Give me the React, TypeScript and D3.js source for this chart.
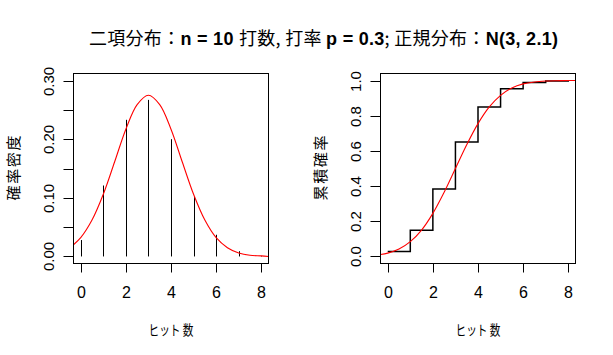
import * as d3 from 'd3';

// binomial n = 10, p = 0.3
const hits = [0, 1, 2, 3, 4, 5, 6, 7, 8];
const pmf = [0.028, 0.121, 0.233, 0.267, 0.2, 0.103, 0.037, 0.009, 0.001];
const cdf = [0.028, 0.149, 0.383, 0.65, 0.85, 0.953, 0.989, 0.998, 1.0];

// normal N(3, 2.1) curve
const normX = [-0.32, 0, 0.5, 1, 1.5, 2, 2.5, 3, 3.5, 4, 4.5, 5, 5.5, 6, 6.5, 7, 7.5, 8, 8.32];
const normPdf = [0.02, 0.032, 0.062, 0.106, 0.161, 0.217, 0.259, 0.275, 0.259, 0.217, 0.161, 0.106, 0.062, 0.032, 0.015, 0.006, 0.002, 0.001, 0.0];
const normCdf = [0.011, 0.019, 0.042, 0.084, 0.15, 0.245, 0.365, 0.5, 0.635, 0.755, 0.85, 0.916, 0.958, 0.981, 0.992, 0.997, 0.999, 1.0, 1.0];

const xTicks = [0, 2, 4, 6, 8];
const pdfTicks = [0, 0.05, 0.1, 0.15, 0.2, 0.25, 0.3];
const pdfLabels = ['0.00', '', '0.10', '', '0.20', '', '0.30'];
const cdfTicks = [0, 0.2, 0.4, 0.6, 0.8, 1.0];

const LATIN = '"Liberation Sans", Arial, sans-serif';
const CJK = '"Noto Sans CJK JP", sans-serif';

interface PanelProps {
    left: number;
    yDomain: [number, number];
    yTicks: number[];
    yLabels: string[];
    yTitle: string;
    titleX: number;
    kind: 'pdf' | 'cdf';
}

const TOP = 73.5;
const BOTTOM = 263.5;
const W = 195;

function Panel(props: PanelProps) {
    const { left, yDomain, yTicks, yLabels, yTitle, titleX, kind } = props;
    const x = d3.scaleLinear().domain([-0.32, 8.32]).range([left, left + W]);
    const y = d3.scaleLinear().domain(yDomain).range([BOTTOM, TOP]);
    const clipId = `clip-${kind}`;

    const curve = d3
        .line<number>()
        .x((d) => x(d))
        .y((_d, i) => y(kind === 'pdf' ? normPdf[i] : normCdf[i]))
        .curve(d3.curveCatmullRom)(normX);

    const steps = d3
        .line<number>()
        .x((d) => x(d))
        .y((_d, i) => y(cdf[i]))
        .curve(d3.curveStepAfter)(hits);

    const midX = left + W / 2;

    return (
        <g>
            <defs>
                <clipPath id={clipId}>
                    <rect x={left} y={TOP} width={W} height={BOTTOM - TOP} />
                </clipPath>
            </defs>
            <g clipPath={`url(#${clipId})`}>
                {kind === 'pdf' &&
                    hits.map((h, i) => (
                        <line key={h} x1={Math.round(x(h)) + 0.5} x2={Math.round(x(h)) + 0.5} y1={y(0)} y2={y(pmf[i])} stroke="#000" />
                    ))}
                {kind === 'cdf' && <path d={steps ?? ''} fill="none" stroke="#000" strokeWidth={1.5} />}
                <path d={curve ?? ''} fill="none" stroke="red" strokeWidth={1.1} />
            </g>
            <rect x={left} y={TOP} width={W} height={BOTTOM - TOP} fill="none" stroke="#000" />
            {xTicks.map((t) => {
                const px = Math.round(x(t)) + 0.5;
                return (
                    <g key={t}>
                        <line x1={px} x2={px} y1={BOTTOM} y2={BOTTOM + 9} stroke="#000" />
                        <text x={px} y={298} textAnchor="middle" fontFamily={LATIN} fontSize={16}>
                            {t}
                        </text>
                    </g>
                );
            })}
            {yTicks.map((t, i) => {
                const py = Math.round(y(t)) + 0.5;
                return (
                    <g key={t}>
                        <line x1={left - 10} x2={left} y1={py} y2={py} stroke="#000" />
                        {yLabels[i] && (
                            <text
                                x={left - 20}
                                y={py}
                                transform={`rotate(-90, ${left - 20}, ${py})`}
                                textAnchor="middle"
                                fontFamily={LATIN}
                                fontSize={15}
                            >
                                {yLabels[i]}
                            </text>
                        )}
                    </g>
                );
            })}
            <text x={midX} y={335} textAnchor="middle" fontFamily={CJK} fontSize={14} textLength={45} lengthAdjust="spacingAndGlyphs">
                ヒット 数
            </text>
            <text
                x={titleX}
                y={168}
                transform={`rotate(-90, ${titleX}, 168)`}
                textAnchor="middle"
                dominantBaseline="central"
                fontFamily={CJK}
                fontSize={15}
                textLength={65}
            >
                {yTitle}
            </text>
        </g>
    );
}

export default function App() {
    return (
        <svg width={613} height={355} viewBox="0 0 613 355" style={{ display: 'block', position: 'absolute', left: 0, top: 0 }}>
            <rect width={613} height={355} fill="#fff" />
            <text x={89} y={45} fontSize={18} textLength={469} lengthAdjust="spacing">
                <tspan fontFamily={CJK}>二項分布：</tspan>
                <tspan fontFamily={LATIN} fontWeight="bold">n = 10 </tspan>
                <tspan fontFamily={CJK}>打数, 打率 </tspan>
                <tspan fontFamily={LATIN} fontWeight="bold">p = 0.3</tspan>
                <tspan fontFamily={CJK}>; 正規分布：</tspan>
                <tspan fontFamily={LATIN} fontWeight="bold">N(3, 2.1)</tspan>
            </text>
            <Panel
                left={73.5}
                yDomain={[-0.012, 0.312]}
                yTicks={pdfTicks}
                yLabels={pdfLabels}
                yTitle="確率密度"
                titleX={12}
                kind="pdf"
            />
            <Panel
                left={380.5}
                yDomain={[-0.04, 1.04]}
                yTicks={cdfTicks}
                yLabels={cdfTicks.map((t) => t.toFixed(1))}
                yTitle="累積確率"
                titleX={319}
                kind="cdf"
            />
        </svg>
    );
}
